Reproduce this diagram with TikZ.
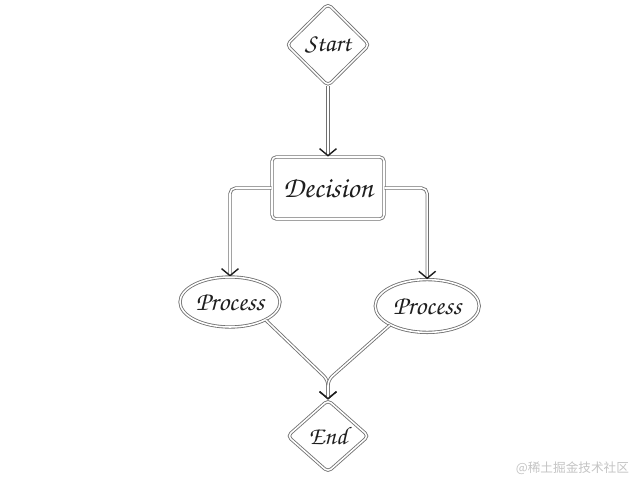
\documentclass[tikz,border=0pt]{standalone}
\usepackage{fontspec}
\usepackage{tikz,xcolor}
\usetikzlibrary{arrows.meta,positioning,calc,shapes.geometric}
\newfontfamily\cjkfont{Noto Sans CJK SC}
\definecolor{edge}{HTML}{707070}
\definecolor{ink}{HTML}{1E1E1E}
\definecolor{mark}{HTML}{C4C4C4}
\newcommand{\scriptlabel}{\fontencoding{T1}\fontfamily{pzc}\fontseries{mb}\fontshape{it}\selectfont}
\tikzset{
  rim/.style={draw=edge,line width=0.6pt,double=white,double distance=1.1pt},
  gate/.style={rim,diamond,rounded corners=3pt,inner sep=0pt,font=\scriptlabel\fontsize{18}{18}\selectfont,text=ink},
  box/.style={rim,rectangle,rounded corners=3pt,minimum width=2.8cm,minimum height=1.55cm,font=\scriptlabel\fontsize{21}{21}\selectfont,text=ink},
  blob/.style={rim,ellipse,inner sep=0pt,font=\scriptlabel\fontsize{19}{19}\selectfont,text=ink},
  flow/.style={rim,rounded corners=4pt,-{Straight Barb[length=5pt,width=12pt,line width=1pt,ink]}}
}
\begin{document}
\begin{tikzpicture}
\useasboundingbox (0,0) rectangle (16,12);
\node[gate,minimum width=2.07cm,minimum height=2.05cm] (start) at (8.2,10.88) {Start};
\node[box] (dec) at (8.2,7.3) {Decision};
\node[blob,minimum width=2.5cm,minimum height=1.25cm] (pl) at (5.75,4.45) {Process};
\node[blob,minimum width=2.6cm,minimum height=1.32cm] (pr) at (10.68,4.35) {Process};
\node[gate,minimum width=2.03cm,minimum height=1.8cm] (end) at (8.2,1.1) {End};
\coordinate (join) at (8.2,2.5);
% connectors
\draw[flow] (dec.west) -| (pl.north);
\draw[flow] (dec.east) -| (pr.north);
\draw[flow] (pl.south east) -- (join) -- (end.north);
\draw[flow] (pr.south west) -- (join) -- (end.north);
\draw[flow] (start.south) -- (dec.north);
\node[anchor=east,font=\cjkfont\fontsize{9}{9}\selectfont,text=mark] (wm) at (15.85,0.3) {@稀土掘金技术社区};
\end{tikzpicture}
\end{document}
